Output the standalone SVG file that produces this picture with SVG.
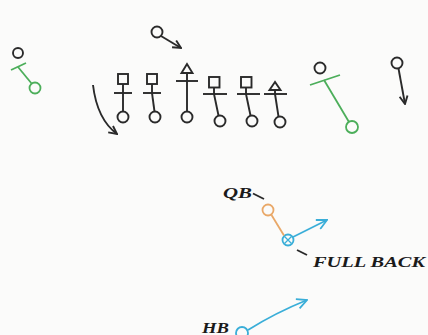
<svg xmlns="http://www.w3.org/2000/svg" width="428" height="335" viewBox="0 0 428 335">
<defs>
<style>
.k{fill:none;stroke:#2a2a2a;stroke-width:1.9}
.g{fill:none;stroke:#4cae5a;stroke-width:1.8}
.o{fill:none;stroke:#e9a868;stroke-width:1.8}
.b{fill:none;stroke:#3aaed8;stroke-width:1.8}
.t{font-family:"Liberation Serif",serif;font-weight:bold;font-style:italic;fill:#1a1a1a}
</style>
<marker id="ak" viewBox="0 0 10 10" refX="9" refY="5" markerWidth="10" markerHeight="10" markerUnits="userSpaceOnUse" orient="auto">
<path d="M1,1 L9,5 L1,9" fill="none" stroke="#2a2a2a" stroke-width="1.9"/>
</marker>
<marker id="ab" viewBox="0 0 12 12" refX="11" refY="6" markerWidth="12" markerHeight="12" markerUnits="userSpaceOnUse" orient="auto">
<path d="M1,1 L11,6 L1,11" fill="none" stroke="#3aaed8" stroke-width="1.8"/>
</marker>
</defs>
<rect width="428" height="335" fill="#fbfbfa"/>
<g id="left-end">
<circle class="k" cx="18" cy="53" r="5"/>
<line class="g" x1="11" y1="70" x2="26" y2="63"/>
<line class="g" x1="18" y1="67" x2="32" y2="84"/>
<circle class="g" cx="35" cy="88" r="5.5"/>
</g>
<g id="lineman1">
<rect class="k" x="118" y="74" width="10" height="10"/>
<line class="k" x1="123" y1="84" x2="123" y2="93"/>
<line class="k" x1="114" y1="93" x2="132" y2="93"/>
<line class="k" x1="123" y1="93" x2="123" y2="111.5"/>
<circle class="k" cx="123" cy="117" r="5.5"/>
</g>
<g id="lineman2">
<rect class="k" x="147" y="74" width="10" height="10"/>
<line class="k" x1="152" y1="84" x2="152" y2="93"/>
<line class="k" x1="143" y1="93" x2="161" y2="93"/>
<line class="k" x1="152" y1="93" x2="154.5" y2="111.5"/>
<circle class="k" cx="155" cy="117" r="5.5"/>
</g>
<g id="center">
<path class="k" d="M187,64 L181.5,73 L192.5,73 Z"/>
<line class="k" x1="187" y1="73" x2="187" y2="81"/>
<line class="k" x1="176" y1="81" x2="198" y2="81"/>
<line class="k" x1="187" y1="81" x2="187" y2="111.5"/>
<circle class="k" cx="187" cy="117" r="5.5"/>
</g>
<g id="lineman4">
<rect class="k" x="209" y="77" width="10.5" height="10.5"/>
<line class="k" x1="214" y1="87.5" x2="214" y2="94"/>
<line class="k" x1="203" y1="94" x2="227" y2="94"/>
<line class="k" x1="214" y1="94" x2="218.5" y2="115.5"/>
<circle class="k" cx="220" cy="121" r="5.5"/>
</g>
<g id="lineman5">
<rect class="k" x="241" y="77" width="10.5" height="10.5"/>
<line class="k" x1="246" y1="87.5" x2="246" y2="94"/>
<line class="k" x1="237" y1="94" x2="260" y2="94"/>
<line class="k" x1="246" y1="94" x2="250.5" y2="115.5"/>
<circle class="k" cx="252" cy="121" r="5.5"/>
</g>
<g id="end6">
<path class="k" d="M275,82 L269.5,90 L280.5,90 Z"/>
<line class="k" x1="275" y1="90" x2="275" y2="94"/>
<line class="k" x1="264" y1="94" x2="287" y2="94"/>
<line class="k" x1="275" y1="94" x2="278.5" y2="116.5"/>
<circle class="k" cx="280" cy="122" r="5.5"/>
</g>
<g id="top-back">
<circle class="k" cx="157" cy="32" r="5.5"/>
</g>
<g id="right-end">
<circle class="k" cx="320" cy="68" r="5.5"/>
<line class="g" x1="310" y1="85" x2="340" y2="75"/>
<line class="g" x1="324" y1="80" x2="349" y2="122"/>
<circle class="g" cx="352" cy="127" r="6"/>
</g>
<g id="right-back">
<circle class="k" cx="397" cy="63" r="5.5"/>
</g>
<g id="qb">
<text class="t" x="223" y="198" font-size="14" textLength="29" lengthAdjust="spacingAndGlyphs">QB</text>
<line class="k" x1="253" y1="193.5" x2="264" y2="199"/>
<circle class="o" cx="268" cy="210" r="5.5"/>
</g>
<g id="fullback">
<circle class="b" cx="288" cy="240" r="5.5"/>
<path d="M284.5,236.5 L291.5,243.5 M291.5,236.5 L284.5,243.5" stroke="#3aaed8" stroke-width="1.3" fill="none"/>
<line class="k" x1="297" y1="250" x2="307" y2="255"/>
<text class="t" x="313" y="267" font-size="14.5" textLength="112" lengthAdjust="spacingAndGlyphs">FULL BACK</text>
</g>
<g id="hb">
<text class="t" x="202" y="333" font-size="14" textLength="27" lengthAdjust="spacingAndGlyphs">HB</text>
<circle class="b" cx="242" cy="333" r="6"/>
</g>
<g id="connectors">
<path class="k" d="M161,36 L181,48" marker-end="url(#ak)"/>
<path class="k" d="M93,85 Q97,119 117,134" marker-end="url(#ak)"/>
<path class="k" d="M398.5,68.5 L405,104" marker-end="url(#ak)"/>
<line class="o" x1="271.5" y1="215" x2="284" y2="235.5"/>
<path class="b" d="M293,237 L327,220" marker-end="url(#ab)"/>
<path class="b" d="M248,330 Q275,313 307,300" marker-end="url(#ab)"/>
</g>
</svg>
